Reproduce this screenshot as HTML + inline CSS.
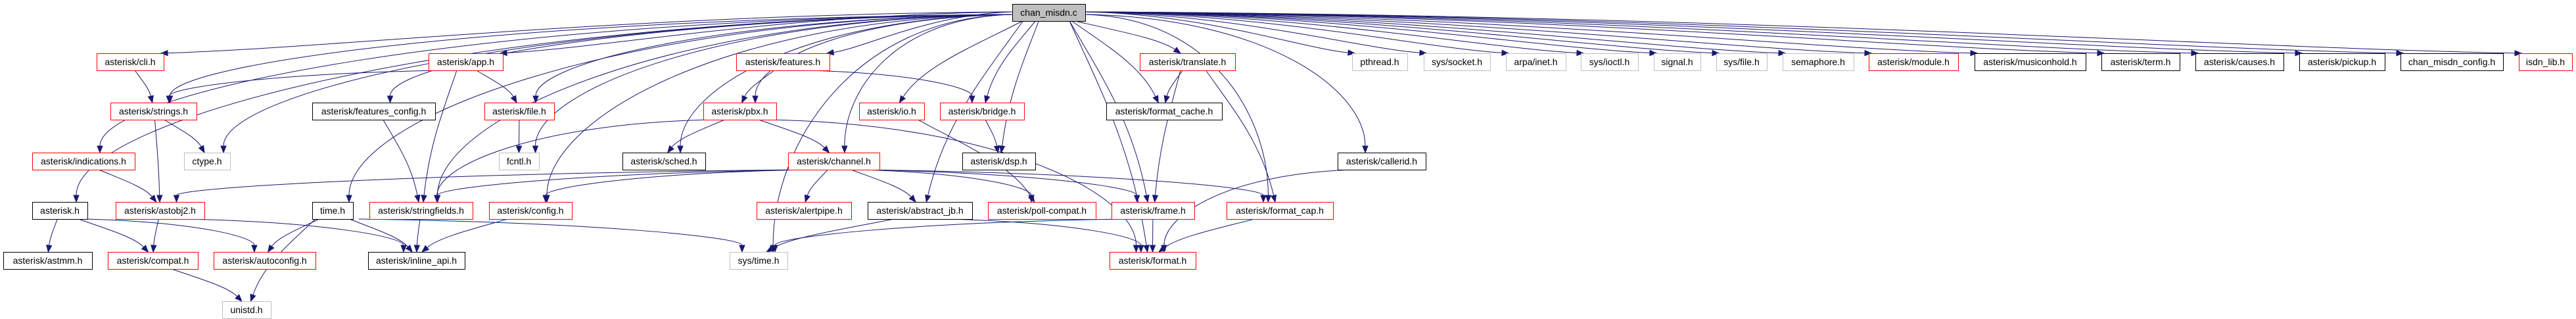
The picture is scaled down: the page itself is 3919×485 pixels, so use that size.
<!DOCTYPE html>
<html><head><meta charset="utf-8"><style>
html,body{margin:0;padding:0;background:#fff;}
body{width:3919px;height:485px;overflow:hidden;position:relative;}
svg{position:absolute;left:0;top:0;}
</style></head><body>
<svg id="g" width="3919" height="485" xmlns="http://www.w3.org/2000/svg"></svg>
<script>
var R=[81,156,232,307,383,458];
var N={
main:[1540,1651,6,'chan_misdn.c','m'],
cli:[147,249,R[0],'asterisk/cli.h','r'],
app:[652,765,R[0],'asterisk/app.h','r'],
features:[1120,1262,R[0],'asterisk/features.h','r'],
translate:[1734,1879,R[0],'asterisk/translate.h','r'],
pthread:[2057,2141,R[0],'pthread.h','g'],
socket:[2166,2267,R[0],'sys/socket.h','g'],
inet:[2291,2382,R[0],'arpa/inet.h','g'],
ioctl:[2405,2492,R[0],'sys/ioctl.h','g'],
signal:[2516,2587,R[0],'signal.h','g'],
sfile:[2611,2688,R[0],'sys/file.h','g'],
sem:[2712,2820,R[0],'semaphore.h','g'],
module:[2843,2979,R[0],'asterisk/module.h','r'],
moh:[3004,3173,R[0],'asterisk/musiconhold.h','b'],
term:[3197,3316,R[0],'asterisk/term.h','b'],
causes:[3340,3474,R[0],'asterisk/causes.h','b'],
pickup:[3498,3628,R[0],'asterisk/pickup.h','b'],
mcfg:[3652,3808,R[0],'chan_misdn_config.h','b'],
isdn:[3832,3913,R[0],'isdn_lib.h','r'],
strings:[168,299,R[1],'asterisk/strings.h','r'],
fconf:[475,662,R[1],'asterisk/features_config.h','b'],
file:[737,843,R[1],'asterisk/file.h','r'],
pbx:[1070,1181,R[1],'asterisk/pbx.h','r'],
io:[1307,1406,R[1],'asterisk/io.h','r'],
bridge:[1430,1558,R[1],'asterisk/bridge.h','r'],
fcache:[1683,1859,R[1],'asterisk/format_cache.h','b'],
ind:[49,205,R[2],'asterisk/indications.h','r'],
ctype:[280,350,R[2],'ctype.h','g'],
fcntl:[759,820,R[2],'fcntl.h','g'],
sched:[947,1073,R[2],'asterisk/sched.h','b'],
channel:[1199,1338,R[2],'asterisk/channel.h','r'],
dsp:[1464,1575,R[2],'asterisk/dsp.h','b'],
callerid:[2035,2169,R[2],'asterisk/callerid.h','b'],
asth:[49,133,R[3],'asterisk.h','b'],
astobj2:[176,311,R[3],'asterisk/astobj2.h','r'],
time:[475,537,R[3],'time.h','b'],
sfields:[562,719,R[3],'asterisk/stringfields.h','r'],
config:[744,870,R[3],'asterisk/config.h','r'],
alert:[1151,1295,R[3],'asterisk/alertpipe.h','r'],
ajb:[1320,1479,R[3],'asterisk/abstract_jb.h','b'],
poll:[1503,1667,R[3],'asterisk/poll-compat.h','r'],
frame:[1691,1817,R[3],'asterisk/frame.h','r'],
fcap:[1866,2028,R[3],'asterisk/format_cap.h','r'],
astmm:[5,140,R[4],'asterisk/astmm.h','b'],
compat:[164,301,R[4],'asterisk/compat.h','r'],
autoconf:[325,480,R[4],'asterisk/autoconfig.h','r'],
inline:[560,707,R[4],'asterisk/inline_api.h','b'],
stime:[1110,1198,R[4],'sys/time.h','g'],
format:[1688,1819,R[4],'asterisk/format.h','r'],
unistd:[338,412,R[5],'unistd.h','g']
};
var E=[];
['cli','strings','ctype','ind','asth','time','sfields','fconf','app','file','fcntl','config','stime','sched','pbx','features','channel','ajb','io','bridge','dsp','frame','translate','fcache','fcap','format','callerid','pthread','socket','inet','ioctl','signal','sfile','sem','module','moh','term','causes','pickup','mcfg','isdn'].forEach(function(t){E.push(['main',t]);});
[['cli','strings'],['app','strings'],['app','file'],['app','sfields'],['strings','ctype'],['strings','astobj2'],['ind','astobj2'],['fconf','sfields'],['file','fcntl'],['features','pbx'],['features','bridge'],['pbx','sched'],['pbx','channel'],['pbx','sfields'],['pbx','format'],['channel','astobj2'],['channel','sfields'],['channel','config'],['channel','alert'],['channel','ajb'],['channel','poll'],['channel','frame'],['channel','fcap'],['io','poll'],['bridge','dsp'],['translate','fcache'],['translate','frame'],['translate','fcap'],['asth','astmm'],['asth','compat'],['asth','autoconf'],['astobj2','compat'],['astobj2','inline'],['time','autoconf'],['time','inline'],['time','unistd'],['time','stime'],['sfields','inline'],['config','inline'],['compat','unistd'],['ajb','stime'],['ajb','format'],['frame','stime'],['frame','format'],['fcap','format'],['callerid','format']].forEach(function(e){E.push(e);});
var svg=document.getElementById('g'),out='';
var C='#191970';
E.forEach(function(e){
 var s=N[e[0]],t=N[e[1]];
 var scx=(s[0]+s[1])/2,sb=s[2]+26,tcx=(t[0]+t[1])/2,tt=t[2];
 var sx,sy,tx,ty,c1x,c1y,c2x,c2y;
 if(e[0]=='main'&&t[2]==R[0]&&Math.abs(tcx-scx)>300){
  sx=tcx>scx?s[1]:s[0]; sy=18; tx=tcx>scx?t[0]+4:t[1]-4; ty=tt;
  var dx=tx-sx; c1x=sx+dx*0.45;c1y=sy+4;c2x=tx-dx*0.2;c2y=ty-8;
 } else if(t[2]==s[2]){
  sx=s[1];sy=s[2]+13;tx=t[0];ty=t[2]+13;c1x=sx+20;c1y=sy;c2x=tx-20;c2y=ty;
 } else {
  var dx=tcx-scx;
  if(e[0]=='main'&&Math.abs(dx)>300){sx=dx>0?s[1]:s[0];sy=22;}
  else {sx=scx+Math.max(-40,Math.min(40,dx*0.2));sy=sb;}
  tx=tcx-Math.max(-25,Math.min(25,dx*0.05));ty=tt;
  c1x=sx+dx*0.55;c1y=sy+(Math.abs(dx)>300?5:(ty-sy)*0.3);c2x=tx;c2y=ty-(ty-sy)*0.45;
  if(Math.abs(dx)<250){c1x=sx+dx*0.3;c2x=tx-dx*0.15;}
 }
 var ang=Math.atan2(ty-c2y,tx-c2x),L=10,W=4;
 var bx=tx-L*Math.cos(ang),by=ty-L*Math.sin(ang);
 out+='<path d="M'+sx+','+sy+' C'+c1x+','+c1y+' '+c2x+','+c2y+' '+bx+','+by+'" fill="none" stroke="'+C+'" stroke-width="1"/>';
 var px=-Math.sin(ang)*W,py=Math.cos(ang)*W;
 out+='<polygon points="'+tx+','+ty+' '+(bx+px)+','+(by+py)+' '+(bx-px)+','+(by-py)+'" fill="'+C+'" stroke="'+C+'"/>';
});
for(var k in N){var n=N[k];
 var st={r:'#ff0000',b:'#000000',g:'#bfbfbf',m:'#000000'}[n[4]],fill=n[4]=='m'?'#bfbfbf':'#ffffff';
 out+='<rect x="'+(n[0]+0.5)+'" y="'+(n[2]+0.5)+'" width="'+(n[1]-n[0])+'" height="26" fill="'+fill+'" stroke="'+st+'" stroke-width="1"/>';
 out+='<text x="'+((n[0]+n[1])/2)+'" y="'+(n[2]+18)+'" text-anchor="middle" font-family="Liberation Sans, sans-serif" font-size="14" fill="#000">'+n[3]+'</text>';
}
svg.innerHTML=out;
</script>
</body></html>
